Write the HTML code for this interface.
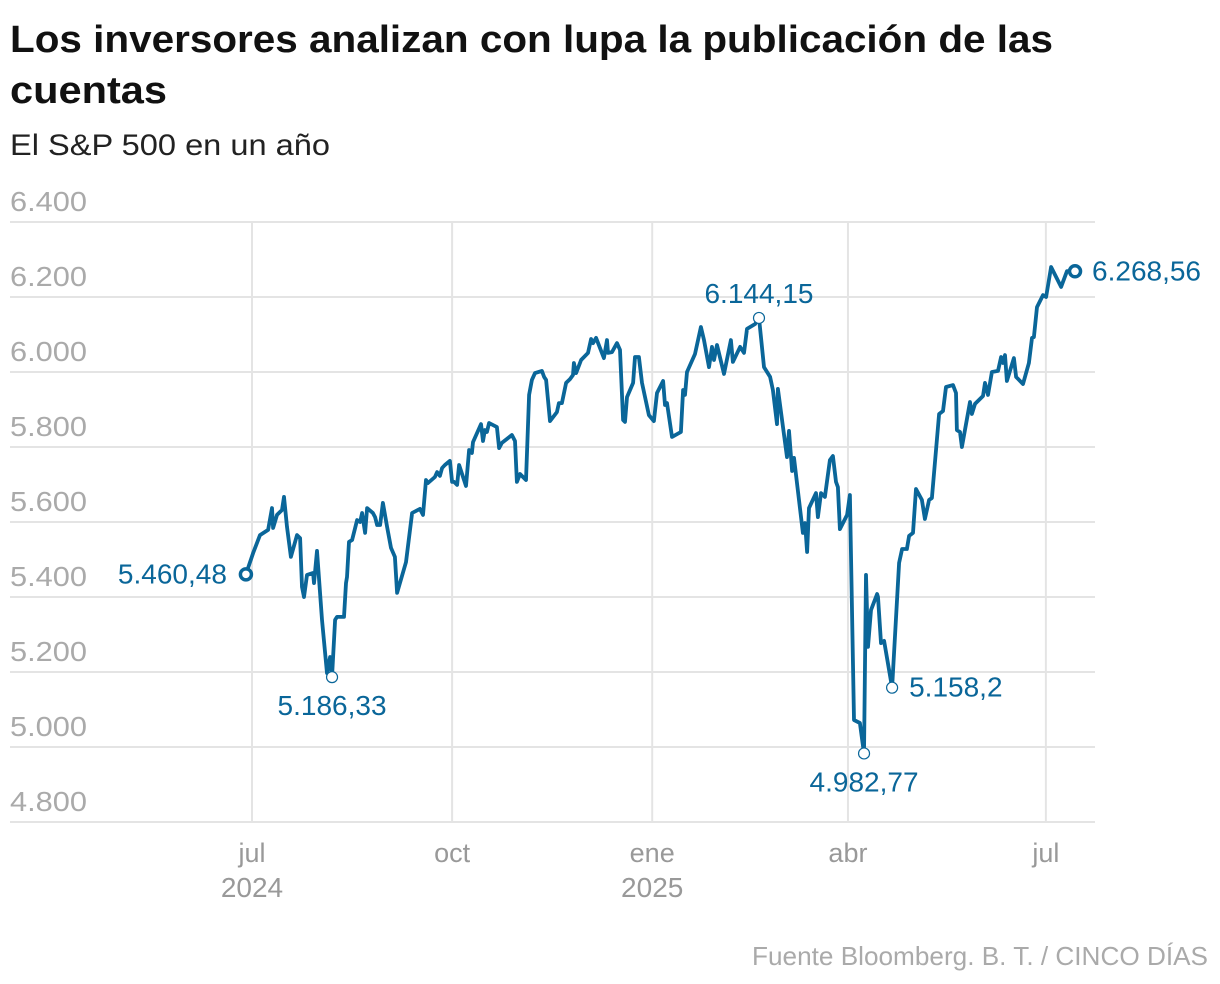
<!DOCTYPE html>
<html><head><meta charset="utf-8">
<style>
html,body{margin:0;padding:0;background:#fff;}
svg{display:block;}
text{font-family:"Liberation Sans",sans-serif;}
</style></head>
<body>
<svg id="chart" width="1220" height="984" viewBox="0 0 1220 984" xmlns="http://www.w3.org/2000/svg">
  <text x="10" y="52" font-size="38" font-weight="bold" fill="#111" textLength="1043" lengthAdjust="spacingAndGlyphs">Los inversores analizan con lupa la publicación de las</text>
  <text x="10" y="103" font-size="38" font-weight="bold" fill="#111" textLength="157" lengthAdjust="spacingAndGlyphs">cuentas</text>
  <text x="10" y="155" font-size="30" fill="#222" textLength="320" lengthAdjust="spacingAndGlyphs">El S&amp;P 500 en un año</text>
  <g id="grid"></g>
  <g id="yaxis"></g>
  <g id="xaxis"></g>
  <g id="series"></g>
  <g id="annots"></g>
  <text x="1208" y="965" font-size="26" fill="#aaa" text-anchor="end" textLength="456" lengthAdjust="spacingAndGlyphs">Fuente Bloomberg. B. T. / CINCO DÍAS</text>
</svg>
<script>
const yTicks = [4800,5000,5200,5400,5600,5800,6000,6200,6400];
const yTickLabels = ["4.800","5.000","5.200","5.400","5.600","5.800","6.000","6.200","6.400"];
const xTickDays = [0,92,184,274,365];
const xTickMonths = ["jul","oct","ene","abr","jul"];
const xTickYears = ["2024","","2025","",""];
const days = [-2.8,0.5,3.7,7.4,9.2,9.7,11.5,13.8,14.7,16.1,17.9,20.7,22.1,23.0,23.9,25.3,28.1,28.5,29.9,32.2,34.5,35.9,36.8,38.2,39.1,42.3,43.2,43.7,44.6,46.0,48.3,49.7,50.6,52.0,52.9,55.6,56.6,57.5,58.9,60.2,62.1,63.9,65.7,66.7,70.8,73.6,77.2,78.6,80.0,80.9,84.1,85.1,86.4,87.4,88.7,91.0,92.0,92.9,94.3,95.2,98.4,99.8,101.1,101.6,105.3,106.2,107.1,108.0,109.0,112.6,113.6,114.9,119.5,120.9,121.8,123.2,126.0,127.4,128.7,130.1,133.3,134.3,135.2,137.0,140.2,141.1,142.5,144.4,146.2,147.6,148.0,149.0,151.3,154.5,155.9,156.8,158.2,161.8,163.2,163.7,165.5,167.8,169.2,170.6,171.5,172.4,175.2,176.1,177.9,179.3,182.5,184.8,186.2,189.0,189.9,190.8,193.1,197.2,198.2,199.1,200.0,203.7,206.4,207.8,210.1,211.5,212.4,213.8,217.0,220.2,221.1,224.4,226.2,227.6,231.3,233.1,235.4,238.2,239.5,241.4,241.8,246.0,246.9,248.3,249.2,253.3,254.3,255.2,256.1,259.3,260.2,261.6,263.4,265.7,267.1,268.5,269.4,270.3,273.6,274.9,276.8,279.5,281.4,282.3,283.2,284.6,287.4,287.8,289.2,290.6,294.3,297.5,298.9,301.1,302.1,303.9,305.3,308.0,309.4,311.3,312.6,315.9,317.7,319.1,322.3,323.7,324.1,325.5,326.4,330.1,331.0,332.4,336.1,337.0,338.4,340.2,343.0,344.4,345.3,346.2,347.1,350.3,351.3,354.5,357.2,358.6,359.5,360.9,363.7,365.1,367.4,372.0,374.7,378.4];
const values = [5460.48,5517,5565,5579,5637,5584,5619,5632,5667,5587,5507,5565,5557,5427,5400,5459,5464,5437,5523,5339,5197,5240,5186.33,5339,5347,5347,5437,5453,5547,5552,5605,5600,5624,5571,5637,5624,5613,5592,5592,5651,5587,5531,5507,5411,5493,5624,5635,5619,5712,5704,5720,5733,5723,5744,5752,5763,5707,5707,5699,5752,5696,5792,5784,5813,5861,5816,5845,5840,5864,5853,5797,5811,5832,5816,5707,5728,5712,5939,5979,5997,6003,5987,5979,5869,5893,5917,5917,5971,5981,5992,6024,5997,6032,6051,6088,6077,6091,6037,6085,6051,6053,6077,6059,5872,5867,5933,5971,6040,6040,5971,5885,5869,5944,5976,5912,5917,5827,5840,5952,5939,6000,6048,6120,6085,6013,6067,6032,6072,5995,6085,6027,6067,6051,6115,6128,6144.15,6013,5987,5952,5861,5955,5773,5843,5736,5771,5571,5597,5520,5637,5677,5613,5677,5667,5765,5776,5707,5693,5581,5619,5672,5072,5064,4982.77,5459,5267,5365,5408,5400,5277,5283,5158.2,5491,5528,5528,5563,5571,5688,5659,5608,5659,5664,5888,5896,5960,5965,5944,5845,5840,5800,5920,5888,5915,5936,5971,5939,6000,6003,6040,6024,6045,5976,6037,5987,5968,6024,6091,6093,6173,6205,6200,6280,6227,6269,6268.56];
const annotText = ["5.460,48","5.186,33","6.144,15","4.982,77","5.158,2","6.268,56"];
const annotPos = ["left","below","above","below","right","right"];

const NS="http://www.w3.org/2000/svg";
const xS = d => 252 + d*2.175;
const yS = v => 822 - (v-4800)*0.375;
// annotation indices derived from data: first, local min (summer), max before spring, global min, spring rebound low, last
function argExt(from,to,cmp){let b=from;for(let i=from;i<=to;i++){if(cmp(values[i],values[b]))b=i;}return b;}
const nLast=values.length-1;
const iGlobalMin=argExt(0,nLast,(a,b)=>a<b);
const iSummerMin=argExt(0,Math.floor(nLast*0.25),(a,b)=>a<b);
const iPreMax=argExt(0,iGlobalMin,(a,b)=>a>b);
const iRebound=argExt(iGlobalMin+3,Math.min(nLast,iGlobalMin+12),(a,b)=>a<b);
const annotIdx=[0,iSummerMin,iPreMax,iGlobalMin,iRebound,nLast];

function mk(tag, attrs, parent, txt){const e=document.createElementNS(NS,tag);for(const k in attrs)e.setAttribute(k,attrs[k]);if(txt!==undefined)e.textContent=txt;parent.appendChild(e);return e;}
const grid=document.getElementById('grid'), ya=document.getElementById('yaxis'), xa=document.getElementById('xaxis'), se=document.getElementById('series'), an=document.getElementById('annots');
yTicks.forEach((t,i)=>{
  const l=mk('line',{x1:10,x2:1095,y1:yS(t),y2:yS(t),stroke:'#e4e4e4','stroke-width':2},grid);
  
  
  const tx=mk('text',{x:10,y:yS(t)-11,'font-size':28,fill:'#aaa',textLength:77,lengthAdjust:'spacingAndGlyphs'},ya,yTickLabels[i]);
  
  
});
xTickDays.forEach((d,i)=>{
  const x=xS(d);
  const l=mk('line',{x1:x,x2:x,y1:yS(6400),y2:yS(4800),stroke:'#e4e4e4','stroke-width':2},grid);
  
  
  const t=mk('text',{x:x,y:862,'font-size':27,fill:'#999','text-anchor':'middle'},xa,xTickMonths[i]);
  
  
  if(xTickYears[i]){
    const t2=mk('text',{x:x,y:897,'font-size':28,fill:'#999','text-anchor':'middle'},xa,xTickYears[i]);
    
    
  }
});
const pts=days.map((d,i)=>xS(d).toFixed(1)+','+yS(values[i]).toFixed(1)).join(' ');
const pl=mk('polyline',{points:pts,fill:'none',stroke:'#0a6699','stroke-width':3.8,'stroke-linejoin':'round','stroke-linecap':'round'},se);


annotIdx.forEach((idx,i)=>{
  const x=xS(days[idx]), y=yS(values[idx]);
  const big=(i===0||i===5);
  const c=mk('circle',{cx:x,cy:y,r:5.5,fill:'#fff',stroke:'#0a6699','stroke-width':big?3.5:1.2},an);
  
  
  let tx=x,ty=y+9,anchor='middle';
  if(annotPos[i]==='left'){tx=x-19;anchor='end';}
  if(annotPos[i]==='right'){tx=x+17;anchor='start';}
  if(annotPos[i]==='above'){ty=y-15;}
  if(annotPos[i]==='below'){ty=y+38;}
  const t=mk('text',{x:tx,y:ty,'font-size':28,fill:'#0a6699','text-anchor':anchor},an,annotText[i]);
  
  
});
</script>
</body></html>
